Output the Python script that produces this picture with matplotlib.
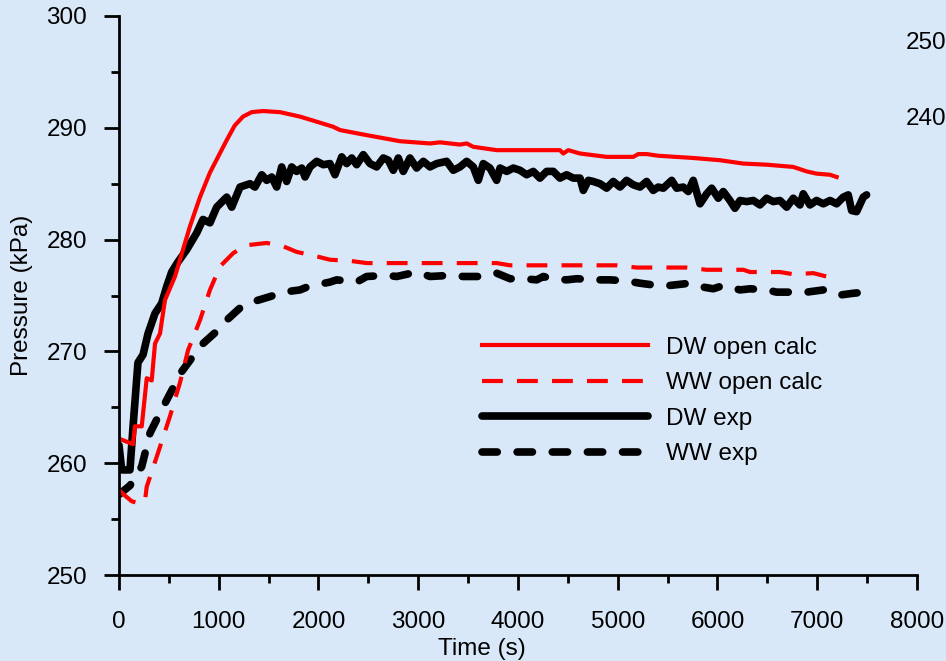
import numpy as np
import matplotlib
matplotlib.use("Agg")
import matplotlib.pyplot as plt

plt.rcParams['font.family'] = ['Liberation Sans', 'DejaVu Sans']

## data (time in s, pressure in kPa)
dw_calc_t = [0, 140, 160, 228, 278, 328, 361, 411, 461, 561, 712, 812, 912, 1080, 1160,
             1243, 1330, 1444, 1614, 1815, 2145, 2215, 2449, 2817, 3118, 3218, 3418, 3486,
             3552, 3786, 4421, 4454, 4504, 4622, 4889, 5156, 5206, 5290, 5406, 5757, 6025,
             6259, 6493, 6760, 6894, 6994, 7128, 7195]
dw_calc_p = [262.2, 261.7, 263.3, 263.3, 267.6, 267.4, 270.7, 271.6, 274.6, 276.7, 281.2,
             283.8, 286.0, 288.9, 290.2, 291.0, 291.4, 291.5, 291.4, 291.0, 290.1, 289.8,
             289.4, 288.8, 288.6, 288.7, 288.5, 288.6, 288.3, 288.0, 288.0, 287.7, 288.0,
             287.7, 287.4, 287.4, 287.65, 287.65, 287.5, 287.3, 287.1, 286.8, 286.7, 286.5,
             286.1, 285.9, 285.8, 285.6]

ww_calc_t = [0, 60, 127, 200, 260, 278, 390, 511, 611, 692, 812, 912, 1013, 1146, 1283,
             1481, 1647, 1781, 1982, 2115, 2316, 2483, 2717, 3118, 3452, 3786, 3920, 4188,
             4454, 4989, 5190, 5691, 5892, 6259, 6326, 6626, 6760, 6961, 7094, 7150]
ww_calc_p = [257.6, 257.1, 256.6, 256.4, 256.6, 257.9, 260.9, 264.2, 267.2, 270.1, 272.8,
             275.5, 277.6, 278.8, 279.5, 279.7, 279.4, 278.9, 278.5, 278.2, 278.1, 277.9,
             277.9, 277.9, 277.9, 277.9, 277.7, 277.7, 277.7, 277.7, 277.5, 277.5, 277.3,
             277.3, 277.1, 277.1, 276.9, 277.0, 276.7, 276.7]

dw_exp_t = [0, 27, 110, 140, 190, 241, 291, 361, 428, 478,
            528, 591, 679, 779, 842, 912, 979, 1080, 1130, 1213,
            1313, 1363, 1431, 1481, 1531, 1581, 1631, 1681, 1731, 1781,
            1832, 1865, 1915, 1982, 2048, 2115, 2165, 2233, 2283, 2333,
            2383, 2449, 2516, 2583, 2650, 2700, 2750, 2800, 2850, 2917,
            2984, 3051, 3118, 3185, 3285, 3351, 3418, 3486, 3552, 3602,
            3652, 3719, 3786, 3820, 3887, 3953, 4020, 4087, 4153, 4220,
            4288, 4354, 4421, 4488, 4554, 4622, 4655, 4705, 4755, 4822,
            4889, 4955, 5023, 5089, 5156, 5223, 5290, 5356, 5406, 5457,
            5541, 5591, 5657, 5707, 5757, 5825, 5892, 5942, 6008, 6058,
            6125, 6175, 6226, 6293, 6359, 6426, 6493, 6559, 6626, 6694,
            6760, 6827, 6860, 6927, 6994, 7061, 7128, 7195, 7261, 7311,
            7345, 7395, 7462, 7495]
dw_exp_p = [261.6, 259.4, 259.4, 263.2, 269.0, 269.7, 271.6, 273.4, 274.3, 275.8,
            277.1, 278.0, 279.1, 280.6, 281.8, 281.5, 282.9, 283.8, 282.9, 284.7,
            285.0, 284.7, 285.8, 285.3, 285.6, 284.7, 286.5, 285.2, 286.5, 286.1,
            286.4, 285.6, 286.5, 287.0, 286.7, 286.8, 285.8, 287.4, 286.8, 287.3,
            286.7, 287.6, 286.8, 286.5, 287.3, 287.1, 286.2, 287.3, 286.1, 287.3,
            286.4, 287.0, 286.5, 286.8, 287.0, 286.2, 286.5, 287.0, 286.5, 285.3,
            286.8, 286.4, 285.3, 286.4, 286.1, 286.4, 286.2, 285.8, 286.1, 285.5,
            286.1, 286.1, 285.5, 285.8, 285.5, 285.5, 284.4, 285.3, 285.2, 285.0,
            284.6, 285.2, 284.7, 285.3, 284.9, 284.7, 285.2, 284.4, 284.7, 284.6,
            285.3, 284.6, 284.7, 284.3, 285.3, 283.2, 284.1, 284.6, 283.7, 284.3,
            283.5, 282.8, 283.5, 283.4, 283.5, 283.1, 283.7, 283.4, 283.5, 282.9,
            283.7, 283.1, 284.1, 283.1, 283.5, 283.2, 283.5, 283.2, 283.8, 284.0,
            282.6, 282.5, 283.8, 284.0]

ww_exp_t = [0, 110, 228, 311, 411, 528, 629, 762, 842, 979, 1080, 1246, 1346, 1514, 1647,
            1815, 1898, 2115, 2182, 2383, 2483, 2684, 2784, 2984, 3118, 3318, 3452, 3652,
            3786, 3920, 4054, 4188, 4254, 4338, 4488, 4589, 4789, 4922, 5089, 5223, 5390,
            5524, 5725, 5825, 5958, 6058, 6226, 6326, 6493, 6593, 6760, 6894, 7061, 7195,
            7361, 7479]
ww_exp_p = [257.2, 258.0, 259.7, 262.7, 264.5, 266.5, 268.2, 269.8, 270.7, 271.8, 272.8,
            274.15, 274.45, 274.9, 275.3, 275.5, 275.8, 276.2, 276.4, 276.2, 276.7, 276.8,
            276.7, 277.1, 276.7, 276.8, 276.7, 276.7, 277.0, 276.5, 276.5, 276.4, 276.7,
            276.5, 276.4, 276.5, 276.4, 276.4, 276.3, 276.1, 275.9, 275.9, 276.1, 275.8,
            275.6, 275.9, 275.5, 275.6, 275.5, 275.3, 275.3, 275.3, 275.5, 275.0, 275.2,
            275.3]

labels = ["DW open calc", "WW open calc", "DW exp", "WW exp"]

##
fs = 17.5
fig = plt.figure(figsize=(9.46, 6.61), dpi=100)
fig.patch.set_facecolor("#d9e8f8")
ax = fig.add_axes([0.1258, 0.1301, 0.8435, 0.8457])
ax.set_facecolor("none")

# experiments first, calculations on top
l3, = ax.plot(dw_exp_t, dw_exp_p, color="black", lw=5.5, solid_capstyle="round",
              solid_joinstyle="round")
l4, = ax.plot(ww_exp_t, ww_exp_p, color="black", lw=5.5, dashes=(2.0, 2.6),
              dash_capstyle="round", dash_joinstyle="round")
l1, = ax.plot(dw_calc_t, dw_calc_p, color="#ff0000", lw=3)
l2, = ax.plot(ww_calc_t, ww_calc_p, color="#ff0000", lw=3, dashes=(5.0, 3.4))

ax.set_xlim(0, 8000)
ax.set_ylim(250, 300)
ax.set_xticks(np.arange(0, 8001, 1000))
ax.set_xticks(np.arange(500, 8000, 1000), minor=True)
ax.set_yticks(np.arange(250, 301, 10))
ax.set_yticks(np.arange(255, 300, 10), minor=True)

for s in ["top", "right"]:
    ax.spines[s].set_visible(False)
for s in ["left", "bottom"]:
    ax.spines[s].set_linewidth(2)

ax.tick_params(which="major", length=11, width=2, labelsize=fs)
ax.tick_params(which="minor", length=6, width=2)
ax.tick_params(axis="y", pad=12)
ax.tick_params(axis="x", pad=15)

ax.set_xlabel("Time (s)", fontsize=fs)
ax.xaxis.label.set_va("center")
ax.xaxis.set_label_coords(0.455, -0.133)
ax.set_ylabel("Pressure (kPa)", fontsize=fs)
ax.yaxis.label.set_va("center")
ax.yaxis.set_label_coords(-0.121, 0.5)

leg = ax.legend([l1, l2, l3, l4], labels, loc="upper left",
                bbox_to_anchor=(0.427, 0.465), frameon=False, fontsize=fs,
                handlelength=6.85, handletextpad=0.74, labelspacing=0.55)

# stray labels at the top right edge
fig.text(906/946, 1 - 43/661, "250", fontsize=fs, va="center", ha="left")
fig.text(906/946, 1 - 119/661, "240", fontsize=fs, va="center", ha="left")

fig.savefig("out.png", dpi=100, facecolor=fig.get_facecolor())
